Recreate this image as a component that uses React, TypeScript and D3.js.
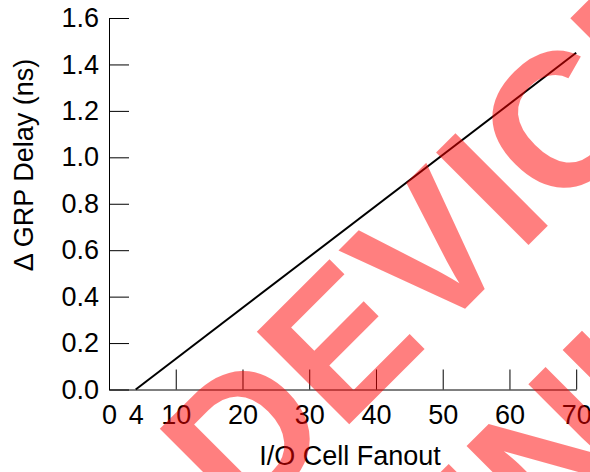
import React from 'react';
import * as d3 from 'd3';

const fanout = [4, 70];
const grpDelay = [0, 1.45];

const xTickValues = [0, 4, 10, 20, 30, 40, 50, 60, 70];
const xNoMark = [0, 4];
const yTickValues = [0, 0.2, 0.4, 0.6, 0.8, 1.0, 1.2, 1.4, 1.6];

const xTitle = 'I/O Cell Fanout';
const yTitle = 'Δ GRP Delay (ns)';
const stampLines = ['DEVICE', 'DISCONTINUED'];

const FONT = '"Liberation Sans", Arial, Helvetica, sans-serif';

export default class App extends React.Component {
    svgRef: any;

    constructor(props) {
        super(props);
        this.width = 590;
        this.height = 472;
        this.svgRef = React.createRef();
        this.drawChart = this.drawChart.bind(this);
    }

    width: number;
    height: number;

    componentDidMount() {
        this.drawChart();
    }

    drawChart() {
        let svg = d3.select(this.svgRef.current);
        svg.selectAll('*').remove();

        let x = d3.scaleLinear().domain([0, 70]).range([109, 576.2]);
        let y = d3.scaleLinear().domain([0, 1.6]).range([389.5, 18]);

        // y axis, ticks pointing inside
        let yAxis = svg.append('g')
            .attr('transform', 'translate(109,0)')
            .call(d3.axisLeft(y).tickValues(yTickValues)
                .tickSizeInner(-20).tickSizeOuter(0).tickPadding(10)
                .tickFormat(d => d.toFixed(1)));
        yAxis.attr('font-size', 27).attr('font-family', FONT);
        yAxis.selectAll('.tick text').attr('fill', '#000');

        // x axis
        let xAxis = svg.append('g')
            .attr('transform', 'translate(0,389.5)')
            .call(d3.axisBottom(x).tickValues(xTickValues)
                .tickSizeInner(-20).tickSizeOuter(0).tickPadding(15)
                .tickFormat(d => d));
        xAxis.attr('font-size', 27).attr('font-family', FONT);
        xAxis.selectAll('.tick line').filter(d => xNoMark.includes(d)).remove();
        xAxis.selectAll('.tick text').attr('fill', '#000');

        let line = d3.line()
            .x(d => x(d[0]))
            .y(d => y(d[1]));
        svg.append('path')
            .datum(fanout.map((f, i) => [f, grpDelay[i]]))
            .attr('d', line)
            .attr('fill', 'none')
            .attr('stroke', '#000')
            .attr('stroke-width', 2);

        svg.append('text')
            .attr('x', 350)
            .attr('y', 465)
            .attr('font-size', 27)
            .attr('font-family', FONT)
            .style('text-anchor', 'middle')
            .text(xTitle);

        svg.append('text')
            .attr('transform', 'translate(33,165) rotate(-90)')
            .attr('font-size', 27)
            .attr('font-family', FONT)
            .style('text-anchor', 'middle')
            .text(yTitle);

        // watermark on top
        let stamp = svg.append('g').attr('transform', 'rotate(-45)');
        stamp.append('text')
            .attr('x', -203)
            .attr('y', 547)
            .text(stampLines[0]);
        stamp.append('text')
            .attr('x', -906)
            .attr('y', 776)
            .text(stampLines[1]);
        stamp.selectAll('text')
            .attr('font-size', 190)
            .attr('font-weight', 'bold')
            .attr('font-family', FONT)
            .attr('fill', '#ff0000')
            .attr('fill-opacity', 0.5);
    }

    render() {
        return (
            <svg ref={this.svgRef} width={590} height={472}
                style={{ position: 'absolute', left: 0, top: 0, background: '#fff' }} />
        );
    }
}
